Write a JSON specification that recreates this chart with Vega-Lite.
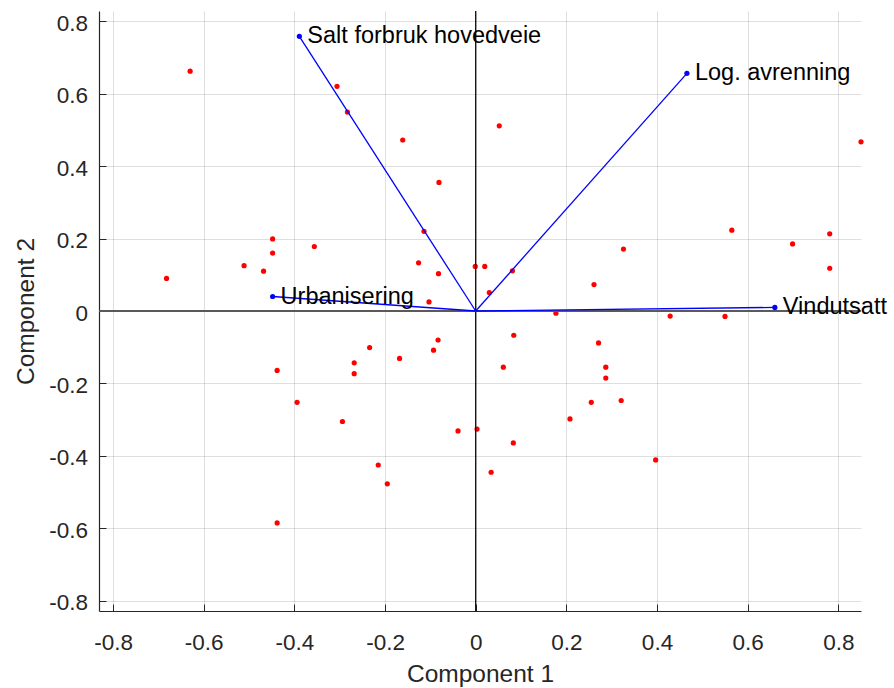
{
  "$schema": "https://vega.github.io/schema/vega-lite/v6.json",
  "width": 762,
  "height": 600,
  "autosize": "none",
  "padding": {"left": 99, "top": 11, "right": 33, "bottom": 77},
  "background": "white",
  "datasets": {
    "scores": [
      {"c1": -0.630, "c2": 0.662}, {"c1": -0.306, "c2": 0.620}, {"c1": -0.283, "c2": 0.549},
      {"c1": -0.161, "c2": 0.472}, {"c1": 0.052, "c2": 0.511}, {"c1": -0.081, "c2": 0.355},
      {"c1": -0.114, "c2": 0.220}, {"c1": -0.448, "c2": 0.199}, {"c1": -0.448, "c2": 0.160},
      {"c1": -0.356, "c2": 0.178}, {"c1": -0.511, "c2": 0.125}, {"c1": -0.468, "c2": 0.110},
      {"c1": -0.682, "c2": 0.090}, {"c1": -0.126, "c2": 0.133}, {"c1": -0.082, "c2": 0.103},
      {"c1": -0.001, "c2": 0.123}, {"c1": 0.020, "c2": 0.123}, {"c1": 0.081, "c2": 0.111},
      {"c1": 0.030, "c2": 0.051}, {"c1": -0.103, "c2": 0.025}, {"c1": 0.177, "c2": -0.006},
      {"c1": 0.261, "c2": 0.073}, {"c1": 0.850, "c2": 0.467}, {"c1": 0.565, "c2": 0.223},
      {"c1": 0.781, "c2": 0.213}, {"c1": 0.699, "c2": 0.185}, {"c1": 0.781, "c2": 0.118},
      {"c1": 0.326, "c2": 0.171}, {"c1": 0.429, "c2": -0.014}, {"c1": 0.550, "c2": -0.015},
      {"c1": 0.084, "c2": -0.067}, {"c1": 0.271, "c2": -0.088}, {"c1": 0.287, "c2": -0.155},
      {"c1": 0.287, "c2": -0.185}, {"c1": 0.061, "c2": -0.155}, {"c1": 0.255, "c2": -0.252},
      {"c1": 0.321, "c2": -0.247}, {"c1": 0.208, "c2": -0.298}, {"c1": -0.039, "c2": -0.331},
      {"c1": 0.003, "c2": -0.326}, {"c1": 0.083, "c2": -0.364}, {"c1": 0.034, "c2": -0.445},
      {"c1": 0.397, "c2": -0.411}, {"c1": -0.083, "c2": -0.080}, {"c1": -0.093, "c2": -0.108},
      {"c1": -0.438, "c2": -0.164}, {"c1": -0.394, "c2": -0.252}, {"c1": -0.268, "c2": -0.143},
      {"c1": -0.268, "c2": -0.173}, {"c1": -0.234, "c2": -0.101}, {"c1": -0.168, "c2": -0.131},
      {"c1": -0.294, "c2": -0.305}, {"c1": -0.215, "c2": -0.425}, {"c1": -0.195, "c2": -0.477},
      {"c1": -0.438, "c2": -0.585}
    ],
    "loadings": [
      {"variable": "Salt forbruk hovedveie", "c1": -0.389, "c2": 0.758},
      {"variable": "Log. avrenning", "c1": 0.466, "c2": 0.656},
      {"variable": "Vindutsatt", "c1": 0.660, "c2": 0.010},
      {"variable": "Urbanisering", "c1": -0.448, "c2": 0.040}
    ]
  },
  "layer": [
    {
      "data": {"name": "scores"},
      "mark": {"type": "point", "filled": true, "shape": "circle", "size": 27, "color": "#ff0000", "opacity": 1},
      "encoding": {
        "x": {
          "field": "c1", "type": "quantitative",
          "scale": {"domain": [-0.831, 0.85], "nice": false, "zero": false},
          "axis": {
            "title": "Component 1",
            "values": [-0.8, -0.6, -0.4, -0.2, 0, 0.2, 0.4, 0.6, 0.8],
            "labelExpr": "toString(round(datum.value * 10) / 10)",
            "tickSize": -7,
            "labelPadding": 27,
            "titleBaseline": "alphabetic",
            "titleY": 70.5
          }
        },
        "y": {
          "field": "c2", "type": "quantitative",
          "scale": {"domain": [-0.828, 0.828], "nice": false, "zero": false},
          "axis": {
            "title": "Component 2",
            "values": [-0.8, -0.6, -0.4, -0.2, 0, 0.2, 0.4, 0.6, 0.8],
            "labelExpr": "toString(round(datum.value * 10) / 10)",
            "tickSize": -7,
            "labelPadding": 18.5,
            "labelBaseline": "middle",
            "labelOffset": 2,
            "titleBaseline": "alphabetic",
            "titleAngle": 270,
            "titleX": -65.5,
            "titleY": 300
          }
        }
      }
    },
    {
      "data": {"values": [{}]},
      "mark": {"type": "rule", "color": "#000000", "strokeWidth": 1.2},
      "encoding": {
        "x": {"datum": 0, "type": "quantitative", "scale": {"domain": [-0.831, 0.85], "nice": false, "zero": false}, "title": "Component 1"}
      }
    },
    {
      "data": {"values": [{}]},
      "mark": {"type": "rule", "color": "#5a5a5a", "strokeWidth": 2},
      "encoding": {
        "y": {"datum": 0, "type": "quantitative", "scale": {"domain": [-0.828, 0.828], "nice": false, "zero": false}, "title": "Component 2"}
      }
    },
    {
      "data": {"name": "loadings"},
      "mark": {"type": "rule", "color": "#0000ff", "strokeWidth": 1.3},
      "encoding": {
        "x": {"field": "c1", "type": "quantitative", "scale": {"domain": [-0.831, 0.85], "nice": false, "zero": false}, "title": "Component 1"},
        "y": {"field": "c2", "type": "quantitative", "scale": {"domain": [-0.828, 0.828], "nice": false, "zero": false}, "title": "Component 2"},
        "x2": {"datum": 0},
        "y2": {"datum": 0}
      }
    },
    {
      "data": {"name": "loadings"},
      "mark": {"type": "point", "filled": true, "shape": "circle", "size": 27, "color": "#0000ff", "opacity": 1},
      "encoding": {
        "x": {"field": "c1", "type": "quantitative", "scale": {"domain": [-0.831, 0.85], "nice": false, "zero": false}, "title": "Component 1"},
        "y": {"field": "c2", "type": "quantitative", "scale": {"domain": [-0.828, 0.828], "nice": false, "zero": false}, "title": "Component 2"}
      }
    },
    {
      "data": {"name": "loadings"},
      "mark": {"type": "text", "align": "left", "baseline": "middle", "dx": 8, "dy": 0, "font": "Liberation Sans", "fontSize": 23.5, "color": "#000000"},
      "encoding": {
        "x": {"field": "c1", "type": "quantitative", "scale": {"domain": [-0.831, 0.85], "nice": false, "zero": false}, "title": "Component 1"},
        "y": {"field": "c2", "type": "quantitative", "scale": {"domain": [-0.828, 0.828], "nice": false, "zero": false}, "title": "Component 2"},
        "text": {"field": "variable"}
      }
    }
  ],
  "config": {
    "view": {"stroke": null},
    "axis": {
      "grid": true,
      "gridColor": "#262626",
      "gridOpacity": 0.15,
      "gridWidth": 1,
      "domainColor": "#262626",
      "domainWidth": 1.2,
      "tickColor": "#262626",
      "tickWidth": 1,
      "labelColor": "#262626",
      "labelFont": "Liberation Sans",
      "labelFontSize": 22.5,
      "labelFlush": false,
      "labelOverlap": false,
      "titleColor": "#262626",
      "titleFont": "Liberation Sans",
      "titleFontSize": 24.5,
      "titleFontWeight": "normal"
    }
  }
}
